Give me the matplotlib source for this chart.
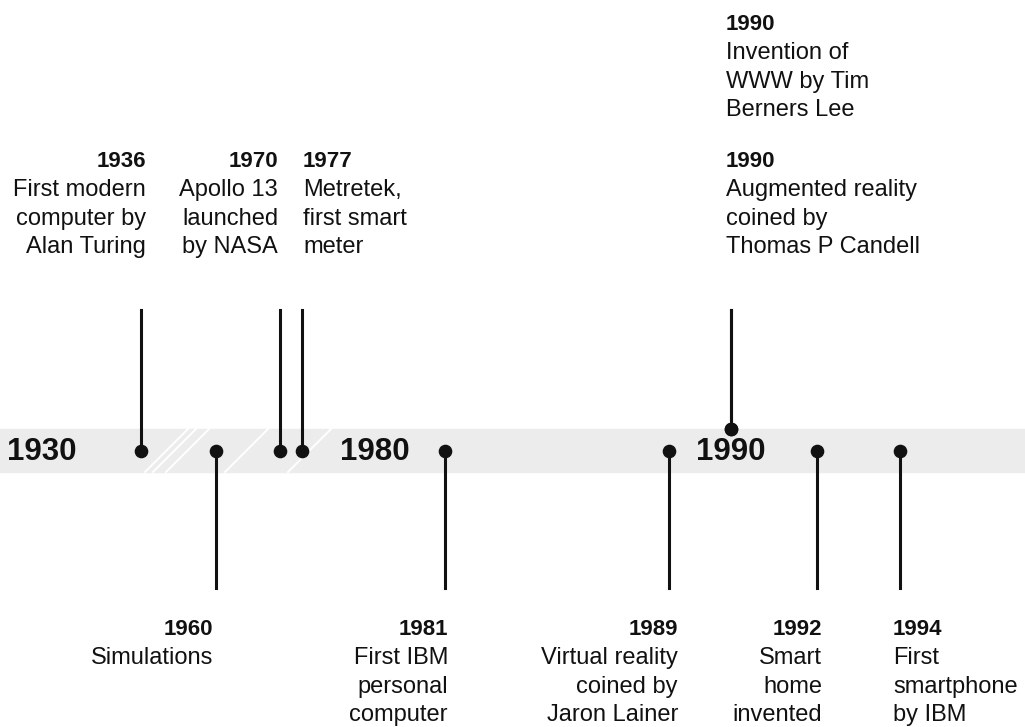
# timeline de tecnologia: faixa cinza com anos-marco, eventos acima e abaixo
import numpy as np
import matplotlib.pyplot as plt

plt.rcParams["font.family"] = ["Liberation Sans", "DejaVu Sans"]

# eventos
anos = [1936, 1960, 1970, 1977, 1981, 1989, 1990, 1990, 1992, 1994]
textos = [
    "First modern\ncomputer by\nAlan Turing",
    "Simulations",
    "Apollo 13\nlaunched\nby NASA",
    "Metretek,\nfirst smart\nmeter",
    "First IBM\npersonal\ncomputer",
    "Virtual reality\ncoined by\nJaron Lainer",
    "Augmented reality\ncoined by\nThomas P Candell",
    "Invention of\nWWW by Tim\nBerners Lee",
    "Smart\nhome\ninvented",
    "First\nsmartphone\nby IBM",
]
lados = ["cima", "baixo", "cima", "cima", "baixo", "baixo", "cima", "cima", "baixo", "baixo"]

# anos grandes escritos na faixa
marcos = [1930, 1980, 1990]

# escala quebrada (ano -> pixel), a faixa nao e linear
escala_anos = [1930, 1936, 1960, 1970, 1977, 1980, 1981, 1989, 1990, 1992, 1994]
escala_px = [42, 141, 216, 280, 302, 375, 445, 669, 731, 817, 900]

# alinhamento do texto de cada evento (ha, deslocamento em px)
alinha = [("right", 5), ("right", -3), ("right", -2), ("left", 1), ("right", 3),
          ("right", 9), ("left", -5), ("left", -5), ("right", 5), ("left", -7)]


def px(ano):
    return float(np.interp(ano, escala_anos, escala_px))


fig = plt.figure(figsize=(10.25, 7.27), dpi=100)
ax = fig.add_axes([0, 0, 1, 1])
ax.set_xlim(0, 1025)
ax.set_ylim(727, 0)
ax.axis("off")

cinza = "#ececec"
preto = "#111111"
y_faixa = 450.5
ax.axhspan(429, 472, color=cinza, zorder=0)

# marcas de quebra (riscos brancos diagonais)
for xb in [145, 153, 166, 225, 288]:
    ax.plot([xb, xb + 43], [472, 429], color="white", lw=1.4, zorder=1)

for m in marcos:
    ax.text(px(m), y_faixa + 1, str(m), ha="center", va="center",
            fontsize=22.5, fontweight="bold", color=preto, zorder=3)

passo = 28.8
usados_cima = {}
for ano, txt, lado, (ha, dx) in zip(anos, textos, lados, alinha):
    x = px(ano)
    linhas = txt.split("\n")
    if lado == "cima":
        y_ponto = 429 if ano in marcos else y_faixa
        ax.plot([x, x], [310, y_ponto], color=preto, lw=2.2, zorder=2)
        ax.plot(x, y_ponto, "o", color=preto, ms=8.8, zorder=4)
        # segundo evento do mesmo ano vai empilhado mais acima
        nivel = usados_cima.get(ano, 0)
        usados_cima[ano] = nivel + 1
        base = 167 - nivel * 137
    else:
        ax.plot([x, x], [y_faixa, 588], color=preto, lw=2.2, zorder=2)
        ax.plot(x, y_faixa, "o", color=preto, ms=8.8, zorder=4)
        base = 635
    ax.text(x + dx, base, str(ano), ha=ha, va="baseline", fontsize=16,
            fontweight="bold", color=preto)
    for i, l in enumerate(linhas):
        ax.text(x + dx, base + passo * (i + 1), l, ha=ha, va="baseline",
                fontsize=17, color=preto)

fig.savefig("out.png", dpi=100)
